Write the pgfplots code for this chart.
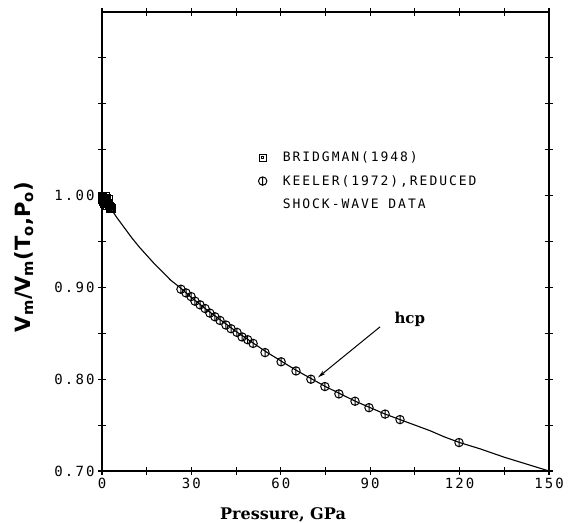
\documentclass[border=0pt]{standalone}
\usepackage{fontspec}
\usepackage{pgfplots}
\pgfplotsset{compat=1.18}
\usetikzlibrary{arrows.meta}
\newfontfamily\plotfont{DejaVu Sans Mono}[LetterSpace=15]
\newfontfamily\labfont{DejaVu Serif}
\newfontfamily\ylabfont{DejaVu Sans}

\pgfdeclareplotmark{cphi}{%
  \pgfpathcircle{\pgfpoint{0pt}{0pt}}{\pgfplotmarksize}%
  \pgfpathmoveto{\pgfpoint{0pt}{-\pgfplotmarksize}}%
  \pgfpathlineto{\pgfpoint{0pt}{\pgfplotmarksize}}%
  \pgfusepathqstroke}
\pgfdeclareplotmark{sqdot}{%
  \pgfpathrectangle{\pgfpoint{-\pgfplotmarksize}{-\pgfplotmarksize}}{\pgfpoint{2\pgfplotmarksize}{2\pgfplotmarksize}}%
  \pgfpathrectangle{\pgfpoint{-0.35\pgfplotmarksize}{-0.35\pgfplotmarksize}}{\pgfpoint{0.7\pgfplotmarksize}{0.7\pgfplotmarksize}}%
  \pgfusepathqstroke}

\pgfplotstableread{
P V
0.0 0.999
0.3 0.998
0.6 0.997
1.0 0.996
1.3 0.994
1.6 0.994
2.0 0.992
2.3 0.990
2.7 0.989
3.0 0.987
3.3 0.986
0.5 0.993
1.2 0.999
2.2 0.996
0.8 0.991
1.8 0.989
2.6 0.985
0.2 0.995
1.5 0.997
}\bridgman

\pgfplotstableread{
P V
26.5 0.898
28.2 0.894
29.9 0.890
31.2 0.885
32.9 0.881
34.6 0.877
36.2 0.872
37.9 0.868
39.6 0.864
41.6 0.859
43.3 0.855
45.3 0.851
47.0 0.846
48.9 0.843
50.7 0.839
54.7 0.829
60.1 0.819
65.1 0.809
70.1 0.800
74.8 0.792
79.5 0.784
84.9 0.776
89.6 0.769
95.0 0.762
100.0 0.756
119.8 0.731
}\keeler

\pgfplotstableread{
P V
0 1.000
2.5 0.988
5 0.976
7.5 0.965
10 0.954
12.5 0.944
15 0.935
17.5 0.926
20 0.918
23 0.908
26.5 0.899
30 0.889
35 0.876
40 0.864
45 0.852
50 0.841
55 0.830
60 0.820
65 0.810
70 0.801
75 0.792
80 0.784
85 0.776
90 0.769
95 0.762
100 0.756
105 0.750
110 0.744
115 0.737
120 0.731
127 0.724
135 0.715
142 0.708
150 0.700
}\curve

\begin{document}
\begin{tikzpicture}
\begin{axis}[
  scale only axis, width=447bp, height=459bp,
  xmin=0, xmax=150, ymin=0.70, ymax=1.20,
  xtick={0,30,...,150}, minor xtick={15,45,...,135},
  ytick={0.70,0.80,0.90,1.00}, minor ytick={0.75,0.85,0.95,1.05,1.10,1.15},
  tick align=center, major tick length=8bp, minor tick length=8bp,
  tick style={black, line width=1.1bp},
  xtick pos=both, ytick pos=both,
  xticklabel pos=lower, yticklabel pos=left,
  axis line style={line width=1.6bp},
  /pgf/number format/assume math mode=true,
  yticklabel style={/pgf/number format/.cd, fixed, fixed zerofill, precision=2},
  xticklabel style={/pgf/number format/.cd, fixed},
  tick label style={font=\plotfont\fontsize{14bp}{16bp}\selectfont},
  xlabel={Pressure, GPa},
  xlabel style={font=\labfont\bfseries\fontsize{16bp}{18bp}\selectfont, at={(rel axis cs:0.405,-0.096)}, anchor=center},
  ylabel={V\textsubscript{m}/V\textsubscript{m}(T\textsubscript{o},P\textsubscript{o})},
  ylabel style={font=\ylabfont\bfseries\fontsize{21bp}{24bp}\selectfont, at={(rel axis cs:-0.175,0.466)}, anchor=center},
  clip=false,
  legend style={at={(axis cs:50,1.052)}, anchor=north west, draw=none, fill=none,
    font=\plotfont\fontsize{13bp}{15bp}\selectfont, row sep=8bp,
    /tikz/every odd column/.append style={column sep=14bp}},
  legend cell align=left,
]
\addplot[only marks, mark=sqdot, mark size=3.6bp, line width=1bp, black] table[x=P,y=V] {\bridgman};
\addlegendentry{BRIDGMAN(1948)}
\addplot[only marks, mark=cphi, mark size=4.2bp, line width=1bp, black, forget plot] table[x=P,y=V] {\keeler};
\addplot[black, line width=1.1bp, forget plot] table[x=P,y=V] {\curve};
\addlegendimage{only marks, mark=cphi, mark size=4.2bp, line width=1bp, black}
\addlegendentry{KEELER(1972),REDUCED}
\addlegendimage{empty legend}
\addlegendentry{SHOCK-WAVE DATA}
\draw[-{Stealth[length=8bp,width=4bp]}, line width=1bp] (axis cs:93.3,0.857) -- (axis cs:72.5,0.802);
\node[font=\labfont\bfseries\fontsize{15bp}{18bp}\selectfont, anchor=west] at (axis cs:97,0.865) {hcp};
\coordinate (sw) at (rel axis cs:0,0);
\coordinate (ne) at (rel axis cs:1,1);
\end{axis}
\pgfresetboundingbox
\path ([shift={(-102bp,-52bp)}]sw) rectangle ([shift={(20bp,12bp)}]ne);
\end{tikzpicture}
\end{document}
